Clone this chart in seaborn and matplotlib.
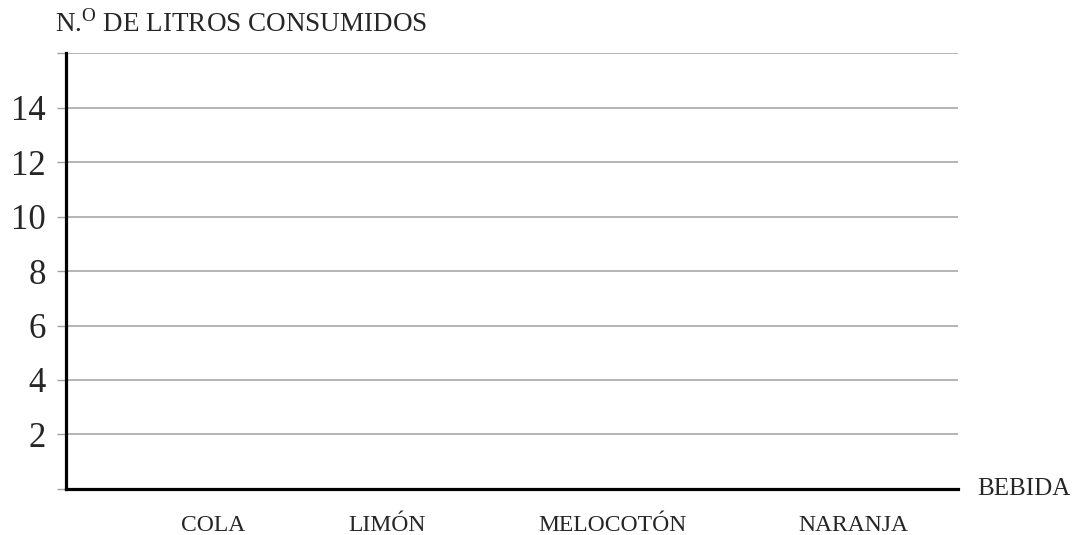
"""Blank bar chart template: litres consumed per drink."""

import matplotlib

matplotlib.use("Agg")
import matplotlib.pyplot as plt
import pandas as pd
import seaborn as sns


# Data (the template is empty: no bars filled in yet).
bebidas = ["COLA", "LIMÓN", "MELOCOTÓN", "NARANJA"]
litros = [0, 0, 0, 0]
y_ticks = [0, 2, 4, 6, 8, 10, 12, 14, 16]
y_labels = ["", "2", "4", "6", "8", "10", "12", "14", ""]

# Layout: label centres are not evenly spaced in the original.
label_pos = [0, 0.816, 1.874, 3]

df = pd.DataFrame({"bebida": bebidas, "litros": litros})

sns.set_theme(style="white")
plt.rcParams["font.family"] = ["Liberation Serif", "DejaVu Serif"]
plt.rcParams["mathtext.fontset"] = "custom"
plt.rcParams["mathtext.rm"] = "Liberation Serif"

fig = plt.figure(figsize=(10.78, 5.35), dpi=100)
ax = fig.add_axes([0.0612, 0.086, 0.8275, 0.8149])

sns.barplot(data=df, x="bebida", y="litros", color="#4c72b0", linewidth=0, ax=ax)

# Grid lines.
for y in y_ticks[1:]:
    ax.axhline(y, color="#a0a0a0", linewidth=1.1, zorder=0)

ax.set_ylim(0, 16)
ax.set_xlim(-0.689, 3.492)
ax.set_yticks(y_ticks)
ax.set_yticklabels(y_labels, fontsize=25)
ax.tick_params(axis="y", length=6.5, width=1.0, color="#a0a0a0", pad=8, left=True)

ax.set_xticks(label_pos)
ax.set_xticklabels(bebidas, fontsize=17)
ax.tick_params(axis="x", length=0, pad=19)

for side in ["top", "right"]:
    ax.spines[side].set_visible(False)
for side in ["left", "bottom"]:
    ax.spines[side].set_color("black")
    ax.spines[side].set_linewidth(2.3)

ax.set_xlabel("")
ax.set_ylabel("")

fig.text(0.051, 0.955, r"N.$^{\mathrm{O}}$ DE LITROS CONSUMIDOS", fontsize=19.5, va="center", ha="left")
ax.text(1.022, 0.0, "BEBIDA", transform=ax.transAxes, fontsize=18, va="center", ha="left")

fig.savefig("out.png", dpi=100, facecolor="white")
